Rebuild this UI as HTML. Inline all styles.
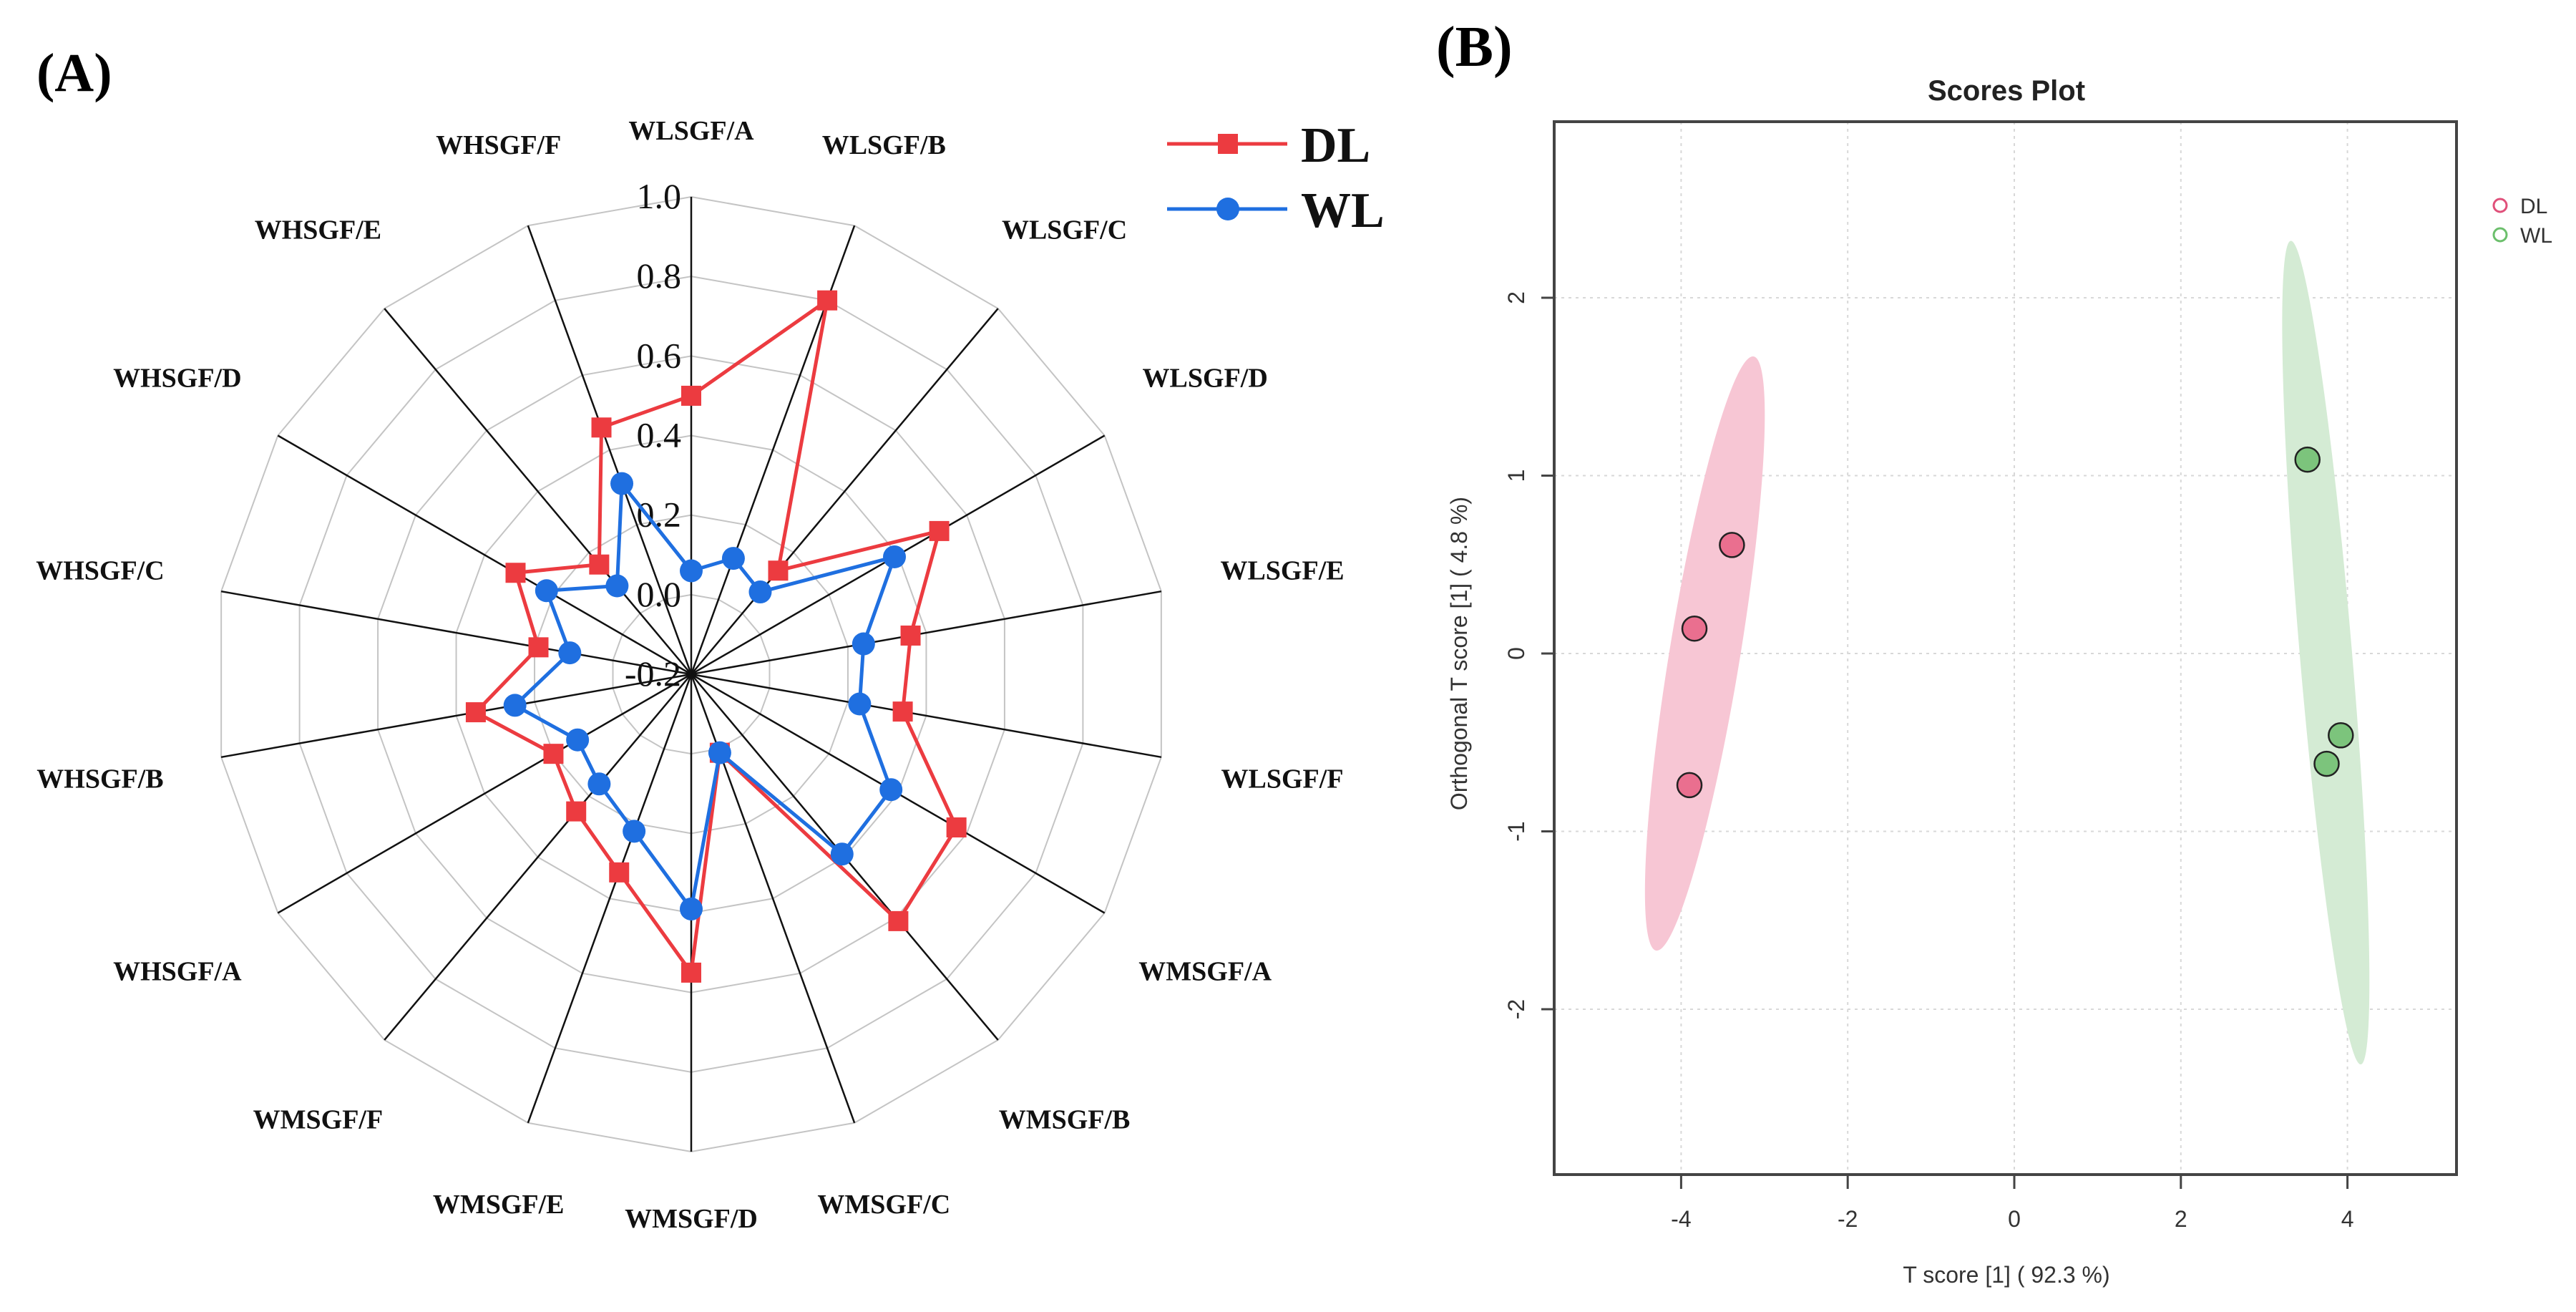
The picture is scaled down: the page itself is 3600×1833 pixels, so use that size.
<!DOCTYPE html>
<html><head><meta charset="utf-8"><style>
html,body{margin:0;padding:0;background:#fff;}
svg{display:block;}
</style></head><body>
<svg id="fig" width="3600" height="1833" viewBox="0 0 3600 1833" xmlns="http://www.w3.org/2000/svg">
<g id="panelA"></g>
<g id="panelB"></g>
</svg>
<script>
// ---------- Radar data ----------
const radarCategories = ["WLSGF/A","WLSGF/B","WLSGF/C","WLSGF/D","WLSGF/E","WLSGF/F","WMSGF/A","WMSGF/B","WMSGF/C","WMSGF/D","WMSGF/E","WMSGF/F","WHSGF/A","WHSGF/B","WHSGF/C","WHSGF/D","WHSGF/E","WHSGF/F"];
const dlValues = [0.50,0.80,0.14,0.52,0.36,0.34,0.57,0.61,0.01,0.55,0.33,0.25,0.20,0.35,0.19,0.31,0.16,0.46];
const wlValues = [0.06,0.11,0.07,0.39,0.24,0.23,0.38,0.39,0.01,0.39,0.22,0.16,0.13,0.25,0.11,0.22,0.09,0.31];
const radarTicks = [-0.2,0.0,0.2,0.4,0.6,0.8,1.0];
const radarTickLabels = ["-0.2","0.0","0.2","0.4","0.6","0.8","1.0"];

// ---------- Scores plot data ----------
const dlT = [-3.39,-3.84,-3.90];
const dlO = [0.61,0.14,-0.74];
const wlT = [3.52,3.92,3.75];
const wlO = [1.09,-0.46,-0.62];
const xTicks = [-4,-2,0,2,4];
const yTicks = [-2,-1,0,1,2];
// ellipse: [topT, topO, bottomT, bottomO, horizontal width in T units]
const dlEllipse = [-3.13,1.67,-4.30,-1.67,0.86];
const wlEllipse = [3.32,2.32,4.16,-2.31,0.63];

const NS="http://www.w3.org/2000/svg";
function mk(parent,tag,attrs,text){const e=document.createElementNS(NS,tag);for(const k in attrs)e.setAttribute(k,attrs[k]);if(text!==undefined)e.textContent=text;parent.appendChild(e);return e;}

// ---------- Radar ----------
const A=document.getElementById('panelA');
const cx=966, cy=942, R=667, vmin=-0.2, vmax=1.0;
const rScale=v=>(v-vmin)/(vmax-vmin)*R;
const N=radarCategories.length;
const ang=i=>i*2*Math.PI/N;
const pt=(i,v)=>[cx+Math.sin(ang(i))*rScale(v), cy-Math.cos(ang(i))*rScale(v)];

let t=mk(A,'text',{x:51,y:127,'font-family':'Liberation Serif, serif','font-weight':'bold','font-size':76,fill:'#000'},'(A)');



radarTicks.forEach((tv,k)=>{ if(tv===vmin) return;
  const pts=[];for(let i=0;i<N;i++)pts.push(pt(i,tv).join(','));
  const p=mk(A,'polygon',{points:pts.join(' '),fill:'none',stroke:'#c4c4c4','stroke-width':2});
  
  
});
for(let i=0;i<N;i++){const [x,y]=pt(i,vmax);
  const l=mk(A,'line',{x1:cx,y1:cy,x2:x,y2:y,stroke:'#111','stroke-width':2.5});
  
  
}
radarTicks.forEach((tv,k)=>{
  const tt=mk(A,'text',{x:952,y:cy-rScale(tv)+16,'text-anchor':'end','font-family':'Liberation Serif, serif','font-size':50,fill:'#111'},radarTickLabels[k]);
  
  
});
radarCategories.forEach((c,i)=>{
  const a=ang(i), s=Math.sin(a), r=760+80*Math.abs(s);
  const x=cx+s*r, y=cy-Math.cos(a)*r;
  const tt=mk(A,'text',{x:x,y:y+13,'text-anchor':'middle','font-family':'Liberation Serif, serif','font-weight':'bold','font-size':38,fill:'#111'},c);
  
  
});
function series(vals,color,shape,name){
  const g=mk(A,'g',{});
  
  
  const pts=vals.map((v,i)=>pt(i,v));
  mk(g,'polygon',{points:pts.map(p=>p.join(',')).join(' '),fill:'none',stroke:color,'stroke-width':5,'stroke-linejoin':'round'});
  pts.forEach(([x,y])=>{
    let m;
    if(shape==='square') m=mk(g,'rect',{x:x-14,y:y-14,width:28,height:28,fill:color});
    else m=mk(g,'circle',{cx:x,cy:y,r:16,fill:color});
    
    
  });
}
series(dlValues,'#ec3b40','square','dl-series');
series(wlValues,'#1f6fe0','circle','wl-series');
const lg=mk(A,'g',{});


mk(lg,'line',{x1:1631,y1:201,x2:1799,y2:201,stroke:'#ec3b40','stroke-width':5});
mk(lg,'rect',{x:1702,y:187,width:28,height:28,fill:'#ec3b40'});
mk(lg,'text',{x:1818,y:226,'font-family':'Liberation Serif, serif','font-weight':'bold','font-size':70,fill:'#111'},'DL');
mk(lg,'line',{x1:1631,y1:292,x2:1799,y2:292,stroke:'#1f6fe0','stroke-width':5});
mk(lg,'circle',{cx:1716,cy:292,r:16,fill:'#1f6fe0'});
mk(lg,'text',{x:1818,y:317,'font-family':'Liberation Serif, serif','font-weight':'bold','font-size':70,fill:'#111'},'WL');

// ---------- Scores plot ----------
const B=document.getElementById('panelB');
const bx0=2172,bx1=3433,by0=170,by1=1641;
const xS=v=>2815+v*116.4;
const yS=v=>913-v*248.5;
t=mk(B,'text',{x:2007,y:92,'font-family':'Liberation Serif, serif','font-weight':'bold','font-size':80,fill:'#000'},'(B)');


t=mk(B,'text',{x:2804,y:140,'text-anchor':'middle','font-family':'Liberation Sans, sans-serif','font-weight':'bold','font-size':40,fill:'#222'},'Scores Plot');


xTicks.forEach(v=>{const l=mk(B,'line',{x1:xS(v),y1:by0,x2:xS(v),y2:by1,stroke:'#d8d8d8','stroke-width':2,'stroke-dasharray':'4 6'});
  
  });
yTicks.forEach(v=>{const l=mk(B,'line',{x1:bx0,y1:yS(v),x2:bx1,y2:yS(v),stroke:'#d8d8d8','stroke-width':2,'stroke-dasharray':'4 6'});
  
  });
function ell(e,fill,name){
  const x1=xS(e[0]),y1=yS(e[1]),x2=xS(e[2]),y2=yS(e[3]);
  const mx=(x1+x2)/2,my=(y1+y2)/2;
  const len=Math.hypot(x2-x1,y2-y1)/2;
  const rot=Math.atan2(x1-x2,y2-y1)*180/Math.PI;
  const theta=Math.atan2(Math.abs(x1-x2),Math.abs(y2-y1));
  const minor=e[4]*116.4/2*Math.cos(theta);
  const el=mk(B,'ellipse',{cx:mx,cy:my,rx:minor,ry:len,fill:fill,transform:`rotate(${rot} ${mx} ${my})`});
  
  
}
ell(dlEllipse,'#f7c6d4','dl-confidence-ellipse');
ell(wlEllipse,'#d4ebd4','wl-confidence-ellipse');
dlT.forEach((v,i)=>{const c=mk(B,'circle',{cx:xS(v),cy:yS(dlO[i]),r:17,fill:'#ea6f8f',stroke:'#222','stroke-width':2.5});
  
  });
wlT.forEach((v,i)=>{const c=mk(B,'circle',{cx:xS(v),cy:yS(wlO[i]),r:17,fill:'#7cc47c',stroke:'#222','stroke-width':2.5});
  
  });
t=mk(B,'rect',{x:bx0,y:by0,width:bx1-bx0,height:by1-by0,fill:'none',stroke:'#444','stroke-width':4});


xTicks.forEach(v=>{mk(B,'line',{x1:xS(v),y1:by1,x2:xS(v),y2:by1+20,stroke:'#444','stroke-width':3});
  const tt=mk(B,'text',{x:xS(v),y:1714,'text-anchor':'middle','font-family':'Liberation Sans, sans-serif','font-size':32,fill:'#333'},String(v));
  
  });
yTicks.forEach(v=>{mk(B,'line',{x1:bx0-18,y1:yS(v),x2:bx0,y2:yS(v),stroke:'#444','stroke-width':3});
  const tt=mk(B,'text',{x:2130,y:yS(v),'text-anchor':'middle','font-family':'Liberation Sans, sans-serif','font-size':32,fill:'#333',transform:`rotate(-90 2130 ${yS(v)})`},String(v));
  
  });
t=mk(B,'text',{x:2804,y:1792,'text-anchor':'middle','font-family':'Liberation Sans, sans-serif','font-size':32,fill:'#333'},'T score [1] ( 92.3 %)');


t=mk(B,'text',{x:2050,y:913,'text-anchor':'middle','font-family':'Liberation Sans, sans-serif','font-size':32,fill:'#333',transform:'rotate(-90 2050 913)'},'Orthogonal T score [1] ( 4.8 %)');


const lb=mk(B,'g',{});


mk(lb,'circle',{cx:3494,cy:287,r:9,fill:'none',stroke:'#e0507a','stroke-width':3});
mk(lb,'text',{x:3522,y:298,'font-family':'Liberation Sans, sans-serif','font-size':30,fill:'#333'},'DL');
mk(lb,'circle',{cx:3494,cy:328,r:9,fill:'none',stroke:'#6cbf6c','stroke-width':3});
mk(lb,'text',{x:3522,y:339,'font-family':'Liberation Sans, sans-serif','font-size':30,fill:'#333'},'WL');
</script>
</body></html>
